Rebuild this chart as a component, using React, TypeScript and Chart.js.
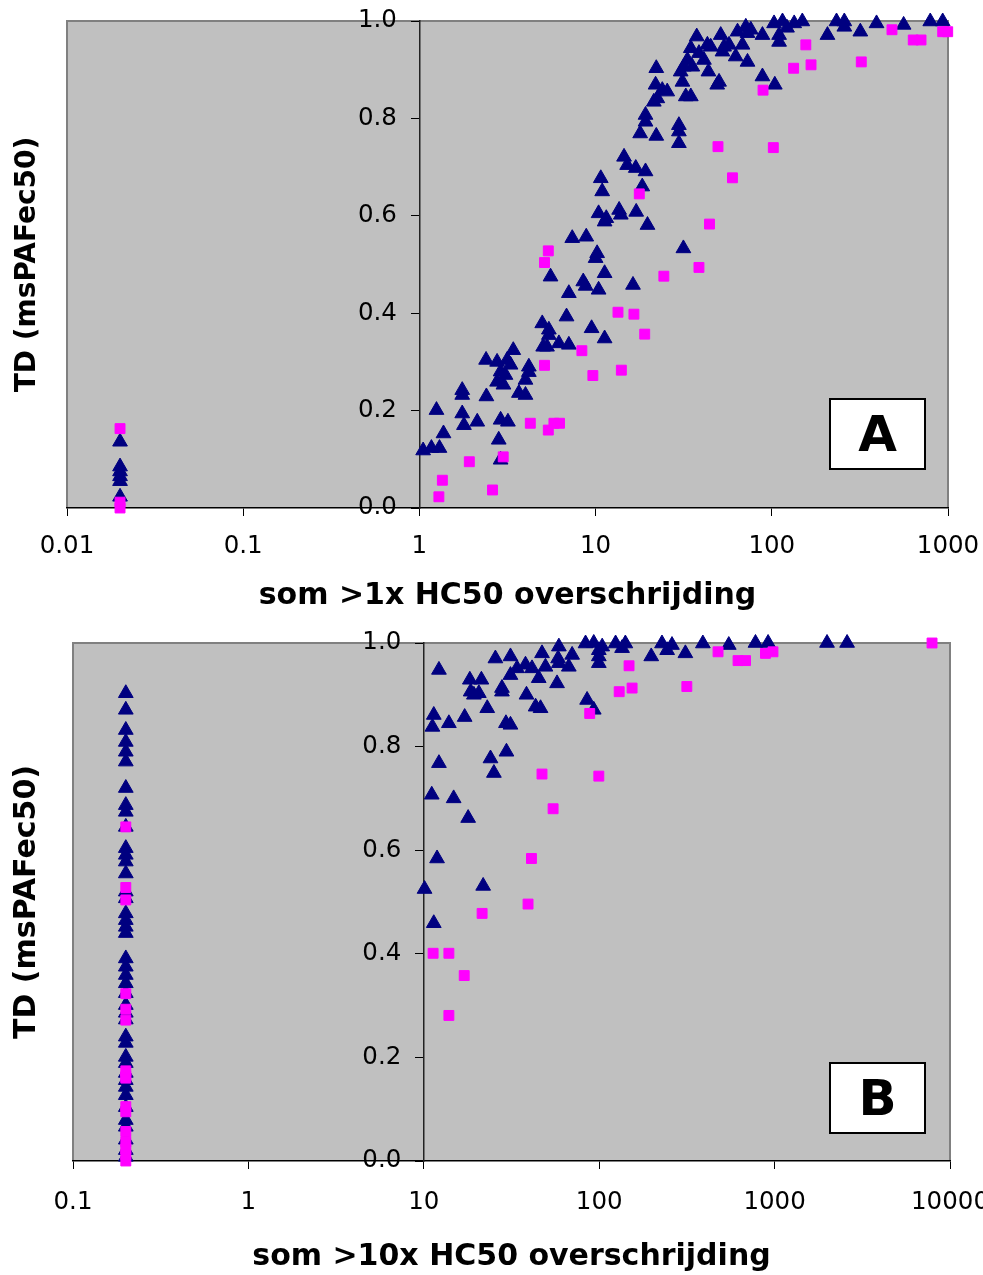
import React, { useEffect, useRef } from "react";
import { Chart, registerables } from "chart.js";

Chart.register(...registerables);

const FONT = '"DejaVu Sans", "Liberation Sans", sans-serif';

// ---------- Panel A : som >1x HC50 overschrijding ----------
const aTriX = [
  0.02, 0.02, 0.02, 0.02, 0.02, 0.02,
  1.05, 1.17, 1.3, 1.37, 1.25, 1.75, 1.75, 1.75, 1.79, 2.13, 2.4, 2.39, 2.76, 2.89,
  3.18, 2.82, 2.89, 3.41, 3.15, 3.29, 2.89, 3.08, 2.76, 3.0, 4.18, 4.18, 4.0, 3.67,
  4.0, 4.98, 5.43, 5.43, 5.04, 5.3, 6.19, 7.05, 6.84, 5.55, 7.05, 8.51, 8.78, 10.4,
  11.25, 10.2, 10.0, 9.49, 11.25, 16.3, 31.5, 7.37, 8.85, 10.4, 11.5, 11.25, 13.6,
  13.9, 17.0, 19.7, 10.7, 10.9, 14.5, 15.1, 16.9, 19.2, 18.4, 19.2, 19.2, 17.9, 22.1,
  29.7, 29.7, 29.7, 22.1, 21.9, 23.9, 25.5, 22.4, 21.4, 32.5, 34.7, 37.5, 34.7, 38.6,
  33.2, 31.7, 35.4, 30.4, 31.1, 43.1, 45, 41.2, 43.7, 50.2, 49, 51.3, 53.6, 57.2,
  52.5, 62.4, 72.8, 68.2, 63.9, 71.2, 72.8, 76, 88.5, 88.5, 104, 103, 115, 110, 110,
  134, 149, 207, 233, 258, 258, 318, 393, 560, 793, 933, 122,
];
const aTriY = [
  0.136, 0.085, 0.075, 0.065, 0.055, 0.023,
  0.118, 0.123, 0.123, 0.153, 0.201, 0.242, 0.232, 0.194, 0.17, 0.177, 0.229, 0.304, 0.3, 0.181,
  0.177, 0.14, 0.099, 0.324, 0.304, 0.294, 0.28, 0.273, 0.259, 0.253, 0.29, 0.279, 0.263, 0.236,
  0.232, 0.379, 0.366, 0.355, 0.331, 0.331, 0.338, 0.335, 0.393, 0.475, 0.441, 0.465, 0.456, 0.448,
  0.482, 0.523, 0.513, 0.369, 0.348, 0.458, 0.533, 0.554, 0.557, 0.605, 0.595, 0.588, 0.612,
  0.602, 0.608, 0.581, 0.677, 0.65, 0.721, 0.704, 0.698, 0.691, 0.66, 0.807, 0.793, 0.769, 0.764,
  0.786, 0.773, 0.749, 0.903, 0.869, 0.858, 0.855, 0.841, 0.834, 0.845, 0.845, 0.968, 0.944, 0.934,
  0.92, 0.906, 0.906, 0.896, 0.875, 0.951, 0.947, 0.92, 0.896, 0.875, 0.869, 0.971, 0.947, 0.951,
  0.937, 0.927, 0.916, 0.951, 0.978, 0.988, 0.975, 0.982, 0.971, 0.886, 0.869, 0.995, 0.999, 0.971, 0.957,
  0.995, 0.999, 0.971, 0.999, 0.999, 0.988, 0.978, 0.995, 0.992, 0.999, 0.999, 0.986,
];
const aSqX = [
  0.02, 0.02, 0.02,
  1.35, 1.29, 1.92, 2.99, 2.6, 4.26, 5.39, 5.8, 6.24, 5.39, 5.13, 5.13, 8.36, 9.65, 14.0,
  13.4, 16.5, 19.0, 24.4, 38.6, 44.3, 17.7, 49.5, 102, 59.8, 89.2, 133, 156, 167, 322,
  481, 635, 703, 933, 996,
];
const aSqY = [
  0.163, 0.012, 0.0,
  0.057, 0.023, 0.095, 0.105, 0.037, 0.174, 0.16, 0.174, 0.174, 0.528, 0.504, 0.293, 0.323, 0.272, 0.283,
  0.402, 0.398, 0.357, 0.476, 0.494, 0.583, 0.645, 0.742, 0.74, 0.678, 0.858, 0.903, 0.951, 0.91, 0.916,
  0.982, 0.961, 0.961, 0.978, 0.978,
];

// ---------- Panel B : som >10x HC50 overschrijding ----------
const bTriX = [
  0.2, 0.2, 0.2, 0.2, 0.2, 0.2, 0.2, 0.2, 0.2, 0.2, 0.2, 0.2, 0.2, 0.2,
  0.2, 0.2, 0.2, 0.2, 0.2, 0.2, 0.2, 0.2, 0.2, 0.2, 0.2, 0.2, 0.2, 0.2,
  0.2, 0.2, 0.2, 0.2, 0.2, 0.2, 0.2, 0.2, 0.2, 0.2, 0.2, 0.2, 0.2, 0.2,
  12.2, 25.6, 31.2, 47.2, 58.9, 70.1, 83.6, 93.1, 104, 99.5, 99.5, 99.5, 124, 141, 135,
  228, 260, 244, 198, 310, 58.3, 58.9, 67.1, 38.0, 41.4, 49.4, 34.0, 31.2, 45.2, 57.5,
  18.3, 21.3, 18.5, 19.3, 20.6, 27.9, 27.9, 38.5, 43.4, 46.3, 85.3, 93.1, 23.0, 11.4,
  11.2, 13.9, 17.1, 29.4, 31.2, 29.6, 24.0, 25.1, 12.2, 11.1, 14.8, 17.9, 11.9, 10.1,
  21.8, 11.4, 390, 548, 778, 918, 1990, 2590,
];
const bTriY = [
  0.903, 0.871, 0.832, 0.809, 0.79, 0.771, 0.72, 0.687, 0.674, 0.645, 0.604, 0.591, 0.578, 0.555,
  0.52, 0.507, 0.478, 0.465, 0.452, 0.44, 0.391, 0.375, 0.359, 0.343, 0.324, 0.301, 0.286, 0.273,
  0.24, 0.228, 0.201, 0.189, 0.17, 0.156, 0.143, 0.127, 0.104, 0.079, 0.066, 0.041, 0.021, 0.008,
  0.948, 0.97, 0.974, 0.98, 0.993, 0.977, 0.999, 1.0, 0.993, 0.986, 0.974, 0.961, 0.999, 0.999, 0.99,
  0.999, 0.996, 0.986, 0.974, 0.98, 0.97, 0.961, 0.954, 0.958, 0.951, 0.954, 0.951, 0.938, 0.932, 0.922,
  0.929, 0.929, 0.906, 0.9, 0.903, 0.913, 0.906, 0.9, 0.877, 0.874, 0.89, 0.871, 0.874, 0.861,
  0.838, 0.845, 0.857, 0.845, 0.842, 0.79, 0.777, 0.749, 0.768, 0.707, 0.7, 0.662, 0.584, 0.525,
  0.531, 0.459, 0.999, 0.996, 1.0, 1.0, 1.0, 1.0,
];
const bSqX = [
  0.2, 0.2, 0.2, 0.2, 0.2, 0.2, 0.2, 0.2, 0.2, 0.2, 0.2, 0.2, 0.2, 0.2, 0.2, 0.2,
  148, 130, 154, 88.3, 316, 47.2, 99.5, 54.6, 41.1, 39.3, 21.5, 11.3, 13.9, 17.0, 13.9,
  476, 619, 683, 887, 979, 7900,
];
const bSqY = [
  0.645, 0.528, 0.504, 0.323, 0.293, 0.272, 0.174, 0.16, 0.163, 0.105, 0.095, 0.057, 0.037, 0.023, 0.012, 0.0,
  0.956, 0.906, 0.913, 0.864, 0.916, 0.747, 0.743, 0.68, 0.584, 0.496, 0.478, 0.401, 0.401, 0.358, 0.281,
  0.983, 0.966, 0.966, 0.98, 0.983, 1.0,
];

// ---------- axes ----------
const aXTicks = [0.01, 0.1, 1, 10, 100, 1000];
const aXTickLabels = ["0.01", "0.1", "1", "10", "100", "1000"];
const bXTicks = [0.1, 1, 10, 100, 1000, 10000];
const bXTickLabels = ["0.1", "1", "10", "100", "1000", "10000"];
const yTicks = [0, 0.2, 0.4, 0.6, 0.8, 1.0];
const yTickLabels = ["0.0", "0.2", "0.4", "0.6", "0.8", "1.0"];
const xTitleA = "som >1x HC50 overschrijding";
const xTitleB = "som >10x HC50 overschrijding";
const yTitleText = "TD (msPAFec50)";

const zip = (xs: number[], ys: number[]) => xs.map((x, i) => ({ x, y: ys[i] }));

const plotBg = {
  id: "plotBg",
  beforeDraw(chart: any) {
    const { ctx, chartArea } = chart;
    const { left, top, right, bottom } = chartArea;
    ctx.save();
    ctx.fillStyle = "#C0C0C0";
    ctx.fillRect(left, top, right - left, bottom - top);
    ctx.strokeStyle = "#808080";
    ctx.lineWidth = 2;
    ctx.beginPath();
    ctx.moveTo(left, bottom);
    ctx.lineTo(left, top);
    ctx.lineTo(right, top);
    ctx.lineTo(right, bottom);
    ctx.stroke();
    ctx.restore();
  },
};

interface PanelProps {
  triX: number[];
  triY: number[];
  sqX: number[];
  sqY: number[];
  xMin: number;
  xMax: number;
  xTicks: number[];
  xTickLabels: string[];
  xTitle: string;
  yAxisAt: number;
  yLabelsAt: number;
  height: number;
  top: number;
  padding: { left: number; right: number; top: number; bottom: number };
  xTickPad: number;
  xTitlePadTop: number;
  yTitleSize: number;
  yTitlePad: { top: number; bottom: number };
}

function Panel(p: PanelProps) {
  const ref = useRef<HTMLCanvasElement | null>(null);
  useEffect(() => {
    if (!ref.current) return;
    const yTickSetter = (s: any) => {
      s.ticks = yTicks.map((v) => ({ value: v }));
    };
    const chart = new Chart(ref.current, {
      type: "scatter",
      data: {
        datasets: [
          {
            label: "squares",
            data: zip(p.sqX, p.sqY),
            pointStyle: "rect",
            pointRadius: 7,
            pointHoverRadius: 7,
            backgroundColor: "#FF00FF",
            borderColor: "#FF00FF",
            borderWidth: 1,
            order: 0,
            clip: false,
            xAxisID: "x",
            yAxisID: "y",
          } as any,
          {
            label: "triangles",
            data: zip(p.triX, p.triY),
            pointStyle: "triangle",
            pointRadius: 8.5,
            pointHoverRadius: 8.5,
            backgroundColor: "#000080",
            borderColor: "#000080",
            borderWidth: 1,
            order: 1,
            clip: false,
            xAxisID: "x",
            yAxisID: "y",
          } as any,
        ],
      },
      options: {
        responsive: false,
        animation: false,
        devicePixelRatio: 1,
        events: [],
        layout: { padding: p.padding },
        plugins: { legend: { display: false }, tooltip: { enabled: false } },
        scales: {
          x: {
            type: "logarithmic",
            position: "bottom",
            min: p.xMin,
            max: p.xMax,
            afterBuildTicks: (s: any) => {
              s.ticks = p.xTicks.map((v) => ({ value: v }));
            },
            afterFit: (s: any) => {
              s.paddingLeft = 0;
              s.paddingRight = 0;
            },
            ticks: {
              autoSkip: false,
              maxRotation: 0,
              minRotation: 0,
              padding: p.xTickPad,
              color: "#000",
              font: { family: FONT, size: 24.5 },
              callback: (_v: any, i: number) => p.xTickLabels[i],
            },
            grid: {
              display: true,
              drawOnChartArea: false,
              drawTicks: true,
              tickLength: 8,
              color: "#000",
              lineWidth: 1,
            },
            border: { display: true, color: "#000", width: 1.5 },
            title: {
              display: true,
              text: p.xTitle,
              color: "#000",
              font: { family: FONT, size: 30, weight: "bold" },
              padding: { top: p.xTitlePadTop, bottom: 0 },
            },
          } as any,
          y: {
            type: "linear",
            axis: "y",
            position: { x: p.yAxisAt },
            min: 0,
            max: 1,
            afterBuildTicks: yTickSetter,
            ticks: { display: false },
            grid: {
              display: true,
              drawOnChartArea: false,
              drawTicks: true,
              tickLength: 8,
              color: "#000",
              lineWidth: 1,
            },
            border: { display: true, color: "#222", width: 1.5 },
          } as any,
          yLab: {
            type: "linear",
            axis: "y",
            position: { x: p.yLabelsAt },
            min: 0,
            max: 1,
            afterBuildTicks: yTickSetter,
            ticks: {
              display: true,
              color: "#000",
              font: { family: FONT, size: 24.5 },
              callback: (_v: any, i: number) => yTickLabels[i],
            },
            grid: { display: false, drawTicks: false, tickLength: 0 },
            border: { display: false },
          } as any,
          yTitle: {
            type: "linear",
            axis: "y",
            position: "left",
            min: 0,
            max: 1,
            ticks: { display: false },
            grid: { display: false, drawTicks: false, tickLength: 0 },
            border: { display: false },
            title: {
              display: true,
              text: yTitleText,
              color: "#000",
              font: { family: FONT, size: p.yTitleSize, weight: "bold" },
              padding: p.yTitlePad,
            },
          } as any,
        },
      },
      plugins: [plotBg],
    });
    return () => chart.destroy();
  }, []);
  return (
    <canvas
      ref={ref}
      width={983}
      height={p.height}
      style={{ position: "absolute", left: 0, top: p.top, display: "block" }}
    />
  );
}

const boxStyle = (top: number): React.CSSProperties => ({
  position: "absolute",
  left: 829,
  top,
  width: 97,
  height: 72,
  boxSizing: "border-box",
  border: "2px solid #000",
  background: "#fff",
  display: "flex",
  alignItems: "center",
  justifyContent: "center",
  fontFamily: FONT,
  fontWeight: "bold",
  fontSize: 50,
  color: "#000",
  lineHeight: 1,
});

export default function App() {
  return (
    <div
      style={{
        position: "absolute",
        left: 0,
        top: 0,
        width: 983,
        height: 1275,
        overflow: "hidden",
        background: "#fff",
      }}
    >
      <Panel
        triX={aTriX}
        triY={aTriY}
        sqX={aSqX}
        sqY={aSqY}
        xMin={0.01}
        xMax={1000}
        xTicks={aXTicks}
        xTickLabels={aXTickLabels}
        xTitle={xTitleA}
        yAxisAt={1}
        yLabelsAt={0.745}
        height={620}
        top={0}
        padding={{ left: 2, right: 35, top: 21, bottom: 6 }}
        xTickPad={16.3}
        xTitlePadTop={0}
        yTitleSize={28}
        yTitlePad={{ top: 8.7, bottom: 22.7 }}
      />
      <Panel
        triX={bTriX}
        triY={bTriY}
        sqX={bSqX}
        sqY={bSqY}
        xMin={0.1}
        xMax={10000}
        xTicks={bXTicks}
        xTickLabels={bXTickLabels}
        xTitle={xTitleB}
        yAxisAt={10}
        yLabelsAt={7.44}
        height={655}
        top={620}
        padding={{ left: 2, right: 33, top: 23, bottom: 0 }}
        xTickPad={19.3}
        xTitlePadTop={2}
        yTitleSize={30}
        yTitlePad={{ top: 7.5, bottom: 27.5 }}
      />
      <div style={boxStyle(398)}>A</div>
      <div style={boxStyle(1062)}>B</div>
    </div>
  );
}
